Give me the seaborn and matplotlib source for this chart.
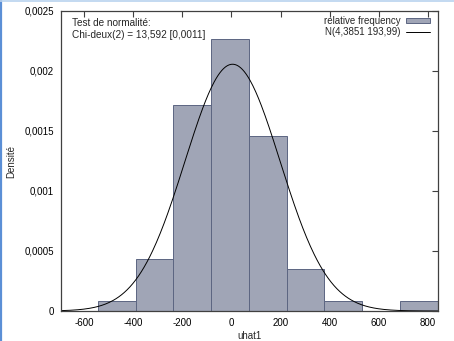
import numpy as np
import pandas as pd
import seaborn as sns
import matplotlib
matplotlib.use("Agg")
import matplotlib.pyplot as plt
from matplotlib.patches import Patch
from matplotlib.lines import Line2D
from matplotlib.ticker import FuncFormatter

# Histogram of residuals: bin edges and relative-frequency densities
bin_edges = [-545, -391, -237, -83, 71, 225, 379, 533, 687, 841]
densities = [0.000087, 0.000433, 0.00172, 0.00227, 0.00146, 0.000346, 0.000087, 0.0, 0.000087]

# Fitted normal distribution
norm_mean = 4.3851
norm_sd = 193.99

x_ticks = [-600, -400, -200, 0, 200, 400, 600, 800]
y_ticks = [0, 0.0005, 0.001, 0.0015, 0.002, 0.0025]

test_title = "Test de normalité:"
test_stat = "Chi-deux(2) = 13,592 [0,0011]"
hist_label = "relative frequency"
curve_label = "N(4,3851 193,99)"

bar_fill = "#a0a5b6"
bar_edge = "#5c6582"
frame_col = "#404040"

sns.set_theme(style="white")
plt.rcParams["font.family"] = ["Liberation Sans", "DejaVu Sans"]

fig = plt.figure(figsize=(4.54, 3.41), dpi=100)
ax = fig.add_axes([61 / 454, 30 / 341, 377 / 454, 300 / 341])

centers = [(a + b) / 2 for a, b in zip(bin_edges[:-1], bin_edges[1:])]
hist_df = pd.DataFrame({"uhat1": centers, "w": densities})
sns.histplot(data=hist_df, x="uhat1", weights="w", bins=bin_edges, stat="count",
             color=bar_fill, edgecolor=bar_edge, linewidth=0.7, alpha=1.0, ax=ax)

xmin, xmax = -695, 842
xs = np.linspace(xmin, xmax, 400)
pdf = np.exp(-0.5 * ((xs - norm_mean) / norm_sd) ** 2) / (norm_sd * np.sqrt(2 * np.pi))
sns.lineplot(x=xs, y=pdf, color="black", linewidth=0.7, ax=ax)

ax.set_xlim(xmin, xmax)
ax.set_ylim(0, 0.0025)
ax.set_xticks(x_ticks)
ax.set_yticks(y_ticks)


def comma_fmt(v, pos):
    if abs(v) < 1e-12:
        return "0"
    s = ("%.4f" % v).rstrip("0").rstrip(".")
    return s.replace(".", ",")


ax.yaxis.set_major_formatter(FuncFormatter(comma_fmt))
ax.xaxis.set_major_formatter(FuncFormatter(lambda v, p: "%d" % v))
ax.tick_params(direction="in", length=4, width=0.8, color=frame_col,
               labelsize=7, labelcolor="black", top=True, right=True, pad=5)
for sp in ax.spines.values():
    sp.set_color(frame_col)
    sp.set_linewidth(0.9)

ax.set_xlabel("uhat1", fontsize=7, labelpad=2)
ax.set_ylabel("Densité", fontsize=7, labelpad=6)

ax.text(0.028, 0.975, test_title + "\n" + test_stat, transform=ax.transAxes,
        fontsize=7.2, va="top", ha="left", linespacing=1.25)

handles = [Patch(facecolor=bar_fill, edgecolor=bar_edge, linewidth=0.7),
           Line2D([0], [0], color="black", linewidth=0.7)]
ax.legend(handles, [hist_label, curve_label], loc="upper right", frameon=False,
          markerfirst=False, fontsize=7, handlelength=2.5, handleheight=0.5,
          handletextpad=0.6, labelspacing=0.15, borderaxespad=0.0,
          borderpad=0.2, bbox_to_anchor=(0.985, 0.99))

# window-style border on the left and top edges
fig.add_artist(Line2D([0.002, 0.002], [0, 1], transform=fig.transFigure,
                      color="#5b8fd6", linewidth=1.6))
fig.add_artist(Line2D([0, 1], [0.998, 0.998], transform=fig.transFigure,
                      color="#b9d3ef", linewidth=1.2))

fig.savefig("out.png", dpi=100)
